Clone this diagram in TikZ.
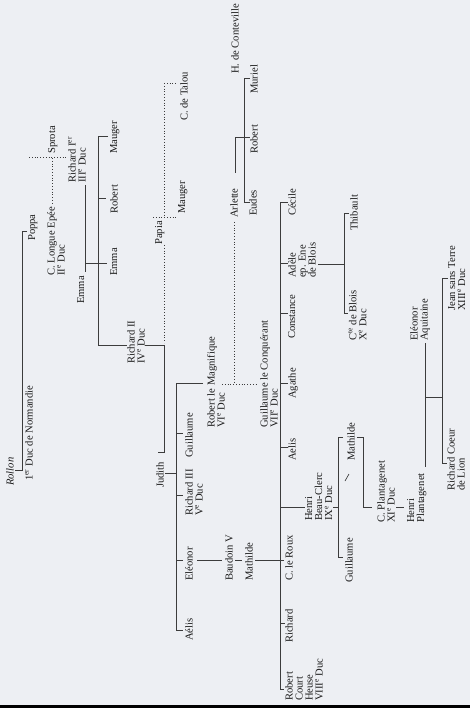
\documentclass[tikz,border=0pt]{standalone}
\usepackage{fontspec}
\setmainfont{Liberation Serif}
\definecolor{paper}{HTML}{EDEFF3}
\definecolor{ink}{HTML}{1A1A1A}
\begin{document}
\begin{tikzpicture}[x=1pt,y=-1pt,
  lbl/.style={rotate=90, anchor=north west, inner sep=0pt, align=left, text=ink,
              font=\fontsize{10.6}{10}\selectfont},
  ln/.style={line width=0.65pt, draw=ink!85},
  dt/.style={line width=0.85pt, draw=ink!85, dash pattern=on 0.8pt off 2pt}]
\fill[paper] (0,0) rectangle (470,708);
\useasboundingbox (0,0) rectangle (470,708);
\fill[black] (0,705) rectangle (470,708);

% ---------- nodes ----------
\node[lbl] (rollon) at (6,486) {\textit{Rollon}};
\node[lbl] (duc1) at (25,481) {1\textsuperscript{er} Duc de Normandie};
\node[lbl] (poppa) at (28,241) {Poppa};
\node[lbl] (longue) at (47,276) {C. Longue Epée\\II\textsuperscript{e} Duc};
\node[lbl] (sprota) at (48,154) {Sprota};
\node[lbl] (richard1) at (68,183) {Richard I\textsuperscript{er}\\III\textsuperscript{e} Duc};
\node[lbl] (mauger1) at (110,154) {Mauger};
\node[lbl] (robert1) at (110,214) {Robert};
\node[lbl] (emmaR) at (110,276) {Emma};
\node[lbl] (emmaL) at (77,304) {Emma};
\node[lbl] (richard2) at (127,364) {Richard II\\IV\textsuperscript{e} Duc};
\node[lbl] (papia) at (155,245) {Papia};
\node[lbl] (mauger2) at (178,214) {Mauger};
\node[lbl] (talou) at (180,121) {C. de Talou};
\node[lbl] (conteville) at (231,74) {H. de Conteville};
\node[lbl] (arlette) at (230,218) {Arlette};
\node[lbl] (muriel) at (250,94) {Muriel};
\node[lbl] (robert2) at (250,154) {Robert};
\node[lbl] (eudes) at (249,216) {Eudes};
\node[lbl] (judith) at (156,488) {Judith};
\node[lbl] (robertM) at (207,428) {Robert le Magnifique\\VI\textsuperscript{e} Duc};
\node[lbl] (guill1) at (185,458) {Guillaume};
\node[lbl] (richard3) at (185,516) {Richard III\\V\textsuperscript{e} Duc};
\node[lbl] (eleonor1) at (185,581) {Eléonor};
\node[lbl] (aelis1) at (185,641) {Aélis};
\node[lbl] (baudoin) at (225,581) {Baudoin V};
\node[lbl] (mathilde1) at (245,581) {Mathilde};
\node[lbl] (leroux) at (285,581) {C. le Roux};
\node[lbl] (conq) at (260,428) {Guillaume le Conquérant\\VII\textsuperscript{e} Duc};
\node[lbl] (cecile) at (288,216) {Cécile};
\node[lbl] (adele) at (288,278) {Adèle\\ep. Ene\\de Blois};
\node[lbl] (constance) at (288,339) {Constance};
\node[lbl] (agathe) at (288,399) {Agathe};
\node[lbl] (aelis2) at (288,461) {Aelis};
\node[lbl] (henri1) at (305,521) {Henri\\Beau-Clerc\\IX\textsuperscript{e} Duc};
\node[lbl] (richard4) at (285,643) {Richard};
\node[lbl] (courteheuse) at (285,701) {Robert\\Court\\Heuse\\VIII\textsuperscript{e} Duc};
\node[lbl] (thibault) at (350,231) {Thibault};
\node[lbl] (blois) at (348,341) {C\textsuperscript{te} de Blois\\X\textsuperscript{e} Duc};
\node[lbl] (mathilde2) at (347,461) {Mathilde};
\node[lbl] (guill2) at (345,583) {Guillaume};
\node[lbl] (plantC) at (377,523) {C. Plantagenet\\XI\textsuperscript{e} Duc};
\node[lbl] (plantH) at (407,523) {Henri\\Plantagenet};
\node[lbl] (aquitaine) at (410,341) {Eléonor\\Aquitaine};
\node[lbl] (jean) at (448,311) {Jean sans Terre\\XIII\textsuperscript{e} Duc};
\node[lbl] (coeur) at (447,491) {Richard Coeur\\de Lion};

% ---------- connectors ----------
% Rollon - Poppa
\draw[ln] (27,231) -- (22,231) -- (22,470) -- (15,470);
% C. Longue Epee ... Sprota -> Richard I
\draw[dt] (52,158) -- (52,204);
\draw[dt] (29,157) -- (67,157);
% Richard I -> children
\draw[ln] (85,185) -- (85,272);
\draw[ln] (85,263) -- (107,263);
\draw[ln] (108,136) -- (98,136) -- (98,345) -- (127,345);
\draw[ln] (98,198) -- (106,198);
% Richard II -> Judith
\draw[ln] (145,345) -- (164,345) -- (164,452) -- (158,452);
% Papia (dotted)
\draw[dt] (164,245) -- (164,343);
\draw[dt] (164,83) -- (164,217);
\draw[dt] (153,217) -- (177,217);
\draw[dt] (164,83) -- (177,83);
% Judith -> children
\draw[ln] (165,473) -- (176,473);
\draw[ln] (203,383) -- (176,383) -- (176,630) -- (183,630);
\draw[ln] (176,433) -- (183,433);
\draw[ln] (176,495) -- (183,495);
\draw[ln] (176,560) -- (183,560);
% Eleonor - Baudoin V - Mathilde - C. le Roux
\draw[ln] (197,560) -- (222,560);
\draw[ln] (235,560) -- (242,560);
\draw[ln] (255,560) -- (284,560);
% Robert le Magnifique ... Arlette -> Guillaume le Conquerant
\draw[dt] (222,384) -- (258,384);
\draw[dt] (234,222) -- (234,383);
% Arlette - H. de Conteville -> children
\draw[ln] (235,173) -- (235,137) -- (250,137);
\draw[ln] (250,78) -- (244,78) -- (244,202) -- (250,202);
% Guillaume le Conquerant children
\draw[ln] (288,202) -- (280,202) -- (280,689) -- (284,689);
\draw[ln] (280,263) -- (288,263);
\draw[ln] (280,313) -- (288,313);
\draw[ln] (280,383) -- (288,383);
\draw[ln] (280,447) -- (288,447);
\draw[ln] (280,507) -- (305,507);
\draw[ln] (280,623) -- (285,623);
% Adele -> Blois
\draw[ln] (318,264) -- (344,264);
\draw[ln] (349,213) -- (344,213) -- (344,313) -- (348,313);
% Henri Beau-Clerc -> children
\draw[ln] (333,507) -- (338,507);
\draw[ln] (343,437) -- (338,437) -- (338,557) -- (343,557);
\draw[ln] (345,481) -- (349,474);
% Mathilde - C. Plantagenet -> Henri
\draw[ln] (357,437) -- (363,437) -- (363,507) -- (372,507);
\draw[ln] (396,507) -- (404,507);
% Henri Plantagenet - Eleonor d'Aquitaine -> children
\draw[ln] (425,343) -- (425,467);
\draw[ln] (425,397) -- (442,397);
\draw[ln] (448,278) -- (442,278) -- (442,463) -- (447,463);
\end{tikzpicture}
\end{document}
